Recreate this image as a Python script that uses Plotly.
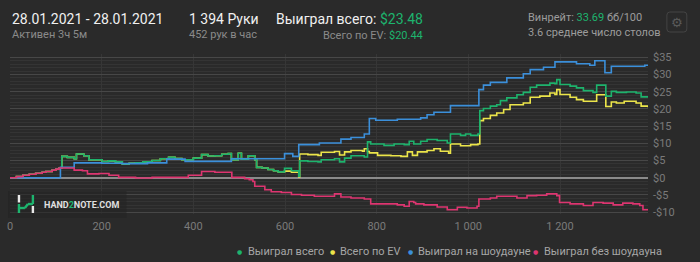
import plotly.graph_objects as go

# ---------------- data ----------------
blue_hands = [0, 110, 140, 200, 245, 300, 342, 382, 483, 599, 617, 630, 675, 722, 744, 773, 784, 798, 845, 896, 910, 925, 961, 1023, 1033, 1048, 1084, 1120, 1135, 1164, 1189, 1236, 1265, 1276, 1298, 1312, 1385, 1392]
blue_vals = [0, 3.0, 4.3, 4.2, 4.1, 4.3, 5.4, 4.75, 5.5, 7.0, 6.2, 9.6, 10.1, 11.2, 11.7, 12.7, 17.2, 16.7, 17.0, 17.4, 18.3, 19.0, 20.95, 25.6, 26.9, 27.7, 29.0, 30.2, 31.4, 32.1, 33.66, 33.1, 32.7, 34.0, 30.5, 32.4, 32.7, 32.7]

green_hands = [0, 14, 28, 42, 56, 70, 78, 92, 100, 107, 113, 125, 140, 145, 161, 172, 194, 201, 215, 230, 245, 260, 274, 290, 310, 328, 346, 360, 375, 389, 400, 418, 432, 447, 462, 476, 483, 498, 505, 520, 534, 538, 550, 563, 575, 585, 599, 614, 630, 632, 650, 672, 679, 708, 719, 730, 744, 773, 780, 787, 816, 838, 860, 871, 881, 896, 910, 932, 954, 961, 983, 994, 1005, 1021, 1025, 1033, 1048, 1062, 1070, 1084, 1106, 1120, 1135, 1149, 1178, 1189, 1193, 1200, 1222, 1236, 1251, 1272, 1280, 1300, 1312, 1323, 1345, 1366, 1377, 1392]
green_vals = [0, 0.3, 0.7, 1.0, 1.3, 1.6, 1.8, 2.2, 2.5, 2.8, 6.2, 5.9, 5.5, 6.9, 6.4, 5.2, 5.2, 4.7, 4.9, 4.6, 4.0, 4.2, 4.3, 4.6, 5.0, 5.5, 5.9, 5.6, 5.2, 5.2, 5.7, 6.7, 6.3, 6.4, 6.8, 7.0, 5.2, 7.1, 5.4, 6.4, 5.2, 3.0, 2.8, 2.4, 2.0, 1.7, 2.7, 2.0, 0.4, 4.9, 4.7, 4.6, 5.2, 5.5, 4.6, 5.7, 6.4, 6.0, 10.4, 9.8, 9.4, 9.8, 9.6, 10.6, 9.8, 10.6, 11.1, 10.8, 10.1, 12.7, 12.3, 12.7, 12.3, 12.7, 19.5, 20.1, 20.8, 21.2, 22.4, 23.2, 24.1, 24.8, 26.3, 26.9, 27.5, 27.3, 28.5, 27.1, 26.6, 26.1, 25.3, 24.8, 26.9, 23.7, 25.1, 24.8, 24.9, 24.6, 23.5, 23.48]

yellow_hands = [0, 14, 28, 42, 56, 70, 78, 92, 100, 107, 113, 125, 140, 145, 161, 172, 194, 201, 215, 230, 245, 260, 274, 290, 310, 328, 346, 360, 375, 389, 400, 418, 432, 447, 462, 476, 483, 498, 505, 520, 534, 538, 550, 563, 575, 585, 599, 614, 630, 632, 650, 672, 679, 708, 719, 730, 744, 769, 773, 780, 784, 802, 831, 853, 867, 878, 889, 910, 925, 939, 957, 961, 983, 1005, 1021, 1025, 1033, 1048, 1062, 1077, 1091, 1120, 1135, 1156, 1178, 1189, 1193, 1200, 1222, 1236, 1251, 1280, 1300, 1312, 1323, 1340, 1366, 1377, 1392]
yellow_vals = [0, 0.3, 0.7, 1.0, 1.3, 1.6, 1.8, 2.2, 2.5, 2.8, 6.2, 5.9, 5.5, 6.9, 6.4, 5.2, 5.2, 4.7, 4.9, 4.6, 4.0, 4.2, 4.3, 4.6, 5.0, 5.5, 5.9, 5.6, 5.2, 5.2, 5.7, 6.7, 6.3, 6.4, 6.8, 7.0, 5.2, 7.1, 5.4, 6.4, 5.2, 3.0, 2.8, 2.4, 2.0, 1.7, 1.9, 1.6, 0.2, 6.9, 6.7, 6.5, 7.4, 7.6, 6.6, 7.5, 7.9, 7.7, 8.4, 7.6, 7.2, 6.5, 6.4, 6.2, 7.5, 6.5, 7.5, 7.9, 8.4, 7.7, 7.1, 9.8, 9.3, 9.6, 9.8, 16.6, 17.2, 18.1, 18.8, 19.8, 21.2, 21.7, 23.4, 23.7, 24.6, 24.2, 25.6, 24.2, 23.4, 22.7, 22.2, 24.1, 20.7, 22.0, 21.7, 22.2, 21.7, 20.8, 20.44]

pink_hands = [0, 14, 28, 42, 56, 70, 78, 92, 100, 107, 140, 158, 169, 194, 216, 237, 274, 310, 346, 389, 418, 447, 480, 484, 512, 522, 530, 534, 556, 570, 592, 614, 636, 664, 686, 708, 722, 744, 773, 787, 816, 845, 860, 871, 881, 885, 903, 932, 954, 976, 997, 1019, 1023, 1048, 1062, 1091, 1106, 1128, 1149, 1171, 1193, 1199, 1222, 1251, 1272, 1294, 1316, 1337, 1359, 1374, 1381, 1392]
pink_vals = [0, 0.3, 0.7, 1.0, 1.3, 1.6, 1.8, 2.2, 2.5, 2.8, 2.2, 2.0, 1.1, 1.2, 0.7, 0.1, -0.1, 0.1, 0.1, 0.7, 1.8, 1.6, 1.6, 0.1, -0.3, -0.6, -1.1, -2.5, -3.5, -4.1, -4.3, -4.9, -5.1, -5.4, -5.4, -4.7, -5.6, -5.9, -6.2, -7.6, -7.6, -7.9, -8.3, -6.9, -7.2, -7.6, -7.9, -8.5, -9.3, -8.6, -8.8, -8.3, -6.2, -5.9, -5.4, -5.4, -5.9, -5.2, -5.1, -4.7, -5.2, -7.2, -7.6, -8.1, -7.2, -7.4, -7.9, -7.4, -7.6, -8.1, -9.3, -9.5]

series_names = ["Выиграл всего", "Всего по EV", "Выиграл на шоудауне", "Выиграл без шоудауна"]
series_colors = ["#1db36c", "#ece54a", "#3b8fda", "#dd3570"]

x_tickvals = [0, 200, 400, 600, 800, 1000, 1200]
x_ticktext = ["0", "200", "400", "600", "800", "1 000", "1 200"]
y_tickvals = [35, 30, 25, 20, 15, 10, 5, 0, -5, -10]
y_ticktext = ["$35", "$30", "$25", "$20", "$15", "$10", "$5", "$0", "-$5", "-$10"]

# ---------------- figure ----------------
W, H = 700, 262
L, R, T, B = 7, 52, 54, 48
PW, PH = W - L - R, H - T - B
BG = "#2a2a2a"
FONT = "Roboto"


def px(x):
    return (x - L) / PW


def py(y):
    return (H - B - y) / PH


fig = go.Figure()
order = [(yellow_hands, yellow_vals, 1), (green_hands, green_vals, 0),
         (blue_hands, blue_vals, 2), (pink_hands, pink_vals, 3)]
for hx, hv, i in order:
    fig.add_trace(go.Scatter(x=hx, y=hv, mode="lines", name=series_names[i],
                             line=dict(color=series_colors[i], width=1.6, shape="hv"),
                             showlegend=False, hoverinfo="skip"))

fig.update_layout(
    width=W, height=H, margin=dict(l=L, r=R, t=T, b=B),
    paper_bgcolor=BG, plot_bgcolor=BG, showlegend=False,
    font=dict(family=FONT, color="#7c7c7c", size=11),
)
fig.update_xaxes(range=[0, 1392], tickmode="array", tickvals=x_tickvals, ticktext=x_ticktext,
                 showgrid=True, gridcolor="#363636", gridwidth=1, zeroline=False,
                 showline=False, ticks="", tickfont=dict(size=11, color="#7a7a7a"),
                 ticklabelstandoff=4)
fig.update_yaxes(range=[-10.55, 35.95], side="right", tickmode="array",
                 tickvals=y_tickvals, ticktext=y_ticktext,
                 showgrid=True, gridcolor="#474747", gridwidth=1,
                 zeroline=True, zerolinecolor="#8a8a8a", zerolinewidth=1.5,
                 minor=dict(tickmode="linear", tick0=0, dtick=1, showgrid=True,
                            gridcolor="#343434", gridwidth=1),
                 showline=False, ticks="", tickfont=dict(size=11, color="#7a7a7a"),
                 ticklabelstandoff=4)

ann = []


def text(x, y, s, size, color="#f0f0f0", anchor="left"):
    ann.append(dict(x=px(x), y=py(y), xref="paper", yref="paper", text=s, showarrow=False,
                    xanchor=anchor, yanchor="middle",
                    font=dict(family=FONT, size=size, color=color)))


GREEN = "#1db46e"
# header
text(7, 19, "28.01.2021 - 28.01.2021", 14)
text(7, 34, "Активен 3ч 5м", 11, "#8a8a8a")
text(185, 19, "1 394 Руки", 14)
text(185, 34, "452 рук в час", 11, "#8a8a8a")
text(424, 19, f"Выиграл всего: <span style='color:{GREEN}'>$23.48</span>", 14, "#f0f0f0", "right")
text(424, 35, f"Всего по EV: <span style='color:{GREEN}'>$20.44</span>", 11, "#8a8a8a", "right")
text(525, 18, f"Винрейт: <span style='color:{GREEN}'>33.69</span> бб/100", 11, "#9c9c9c")
text(525, 33, "3.6 среднее число столов", 11, "#9c9c9c")

# gear button
ann.append(dict(x=px(677), y=py(22), xref="paper", yref="paper", text="⚙", showarrow=False,
                xanchor="center", yanchor="middle",
                font=dict(family="DejaVu Sans", size=13, color="#5a5a5a")))

# legend
legend_dot_x = [238, 331, 409, 535]
for i, dx in enumerate(legend_dot_x):
    ann.append(dict(x=px(dx), y=py(251), xref="paper", yref="paper", text="●", showarrow=False,
                    xanchor="center", yanchor="middle",
                    font=dict(family="DejaVu Sans", size=6, color=series_colors[i])))
    text(dx + 6, 251, series_names[i], 11, "#a6a6a6")

# logo
ann.append(dict(x=px(39), y=py(205), xref="paper", yref="paper",
                text=f"<b>HAND<span style='color:{GREEN}'>2</span>NOTE.COM</b>",
                showarrow=False, xanchor="left", yanchor="middle",
                font=dict(family=FONT, size=9, color="#e0e0e0")))
fig.update_layout(annotations=ann)

shapes = []


def seg(x0, y0, x1, y1, color, w=2.4):
    shapes.append(dict(type="line", xref="paper", yref="paper", x0=px(x0), y0=py(y0),
                       x1=px(x1), y1=py(y1), line=dict(color=color, width=w), layer="above"))


shapes.append(dict(type="rect", xref="paper", yref="paper", x0=px(5), x1=px(124),
                   y0=py(191), y1=py(218), fillcolor="rgba(34,34,34,0.55)",
                   line=dict(width=0), layer="above"))
seg(16, 195, 16, 202.5, "#e8e8e8")
seg(16, 204, 16, 213, "#1db46e")
seg(16, 208, 22, 208, "#1db46e")
seg(22, 208, 25, 204, "#1db46e")
seg(25, 204, 30, 204, "#1db46e")
seg(30, 195, 30, 204, "#1db46e")
seg(30, 206, 30, 213, "#e8e8e8")

# gear box (rounded)
x0, x1, y0, y1, r = px(667), px(687), py(12), py(32), 3
rx, ry = r / PW, r / PH
path = (f"M {x0+rx},{y0} L {x1-rx},{y0} Q {x1},{y0} {x1},{y0-ry} L {x1},{y1+ry} "
        f"Q {x1},{y1} {x1-rx},{y1} L {x0+rx},{y1} Q {x0},{y1} {x0},{y1+ry} "
        f"L {x0},{y0-ry} Q {x0},{y0} {x0+rx},{y0} Z")
shapes.append(dict(type="path", xref="paper", yref="paper", path=path,
                   line=dict(color="#444444", width=1), fillcolor="rgba(0,0,0,0)"))
fig.update_layout(shapes=shapes)

fig.write_html("out.html")
